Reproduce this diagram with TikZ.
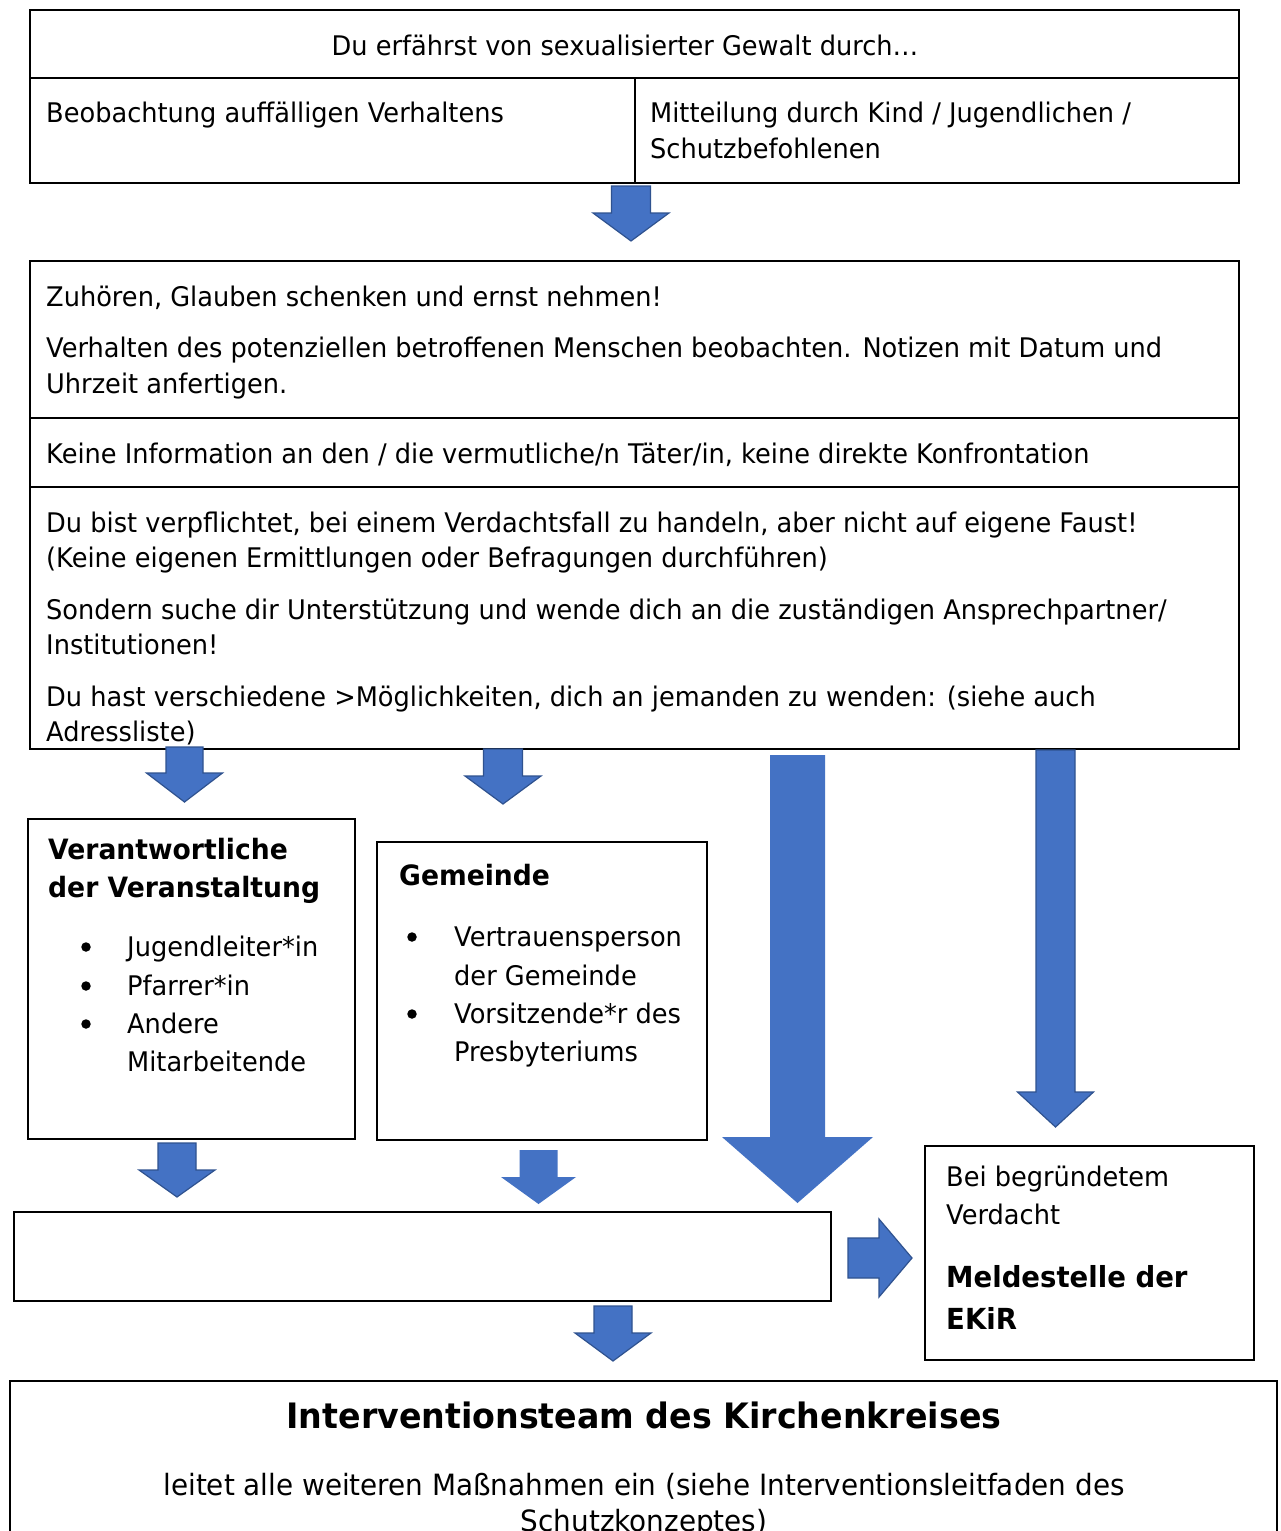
\documentclass[tikz,border=0pt]{standalone}
\usepackage{fontspec}
\setmainfont{DejaVu Sans}[FakeStretch=0.95]
\definecolor{arrowblue}{HTML}{4472C4}
\definecolor{arrowedge}{HTML}{2F528F}
\newcommand{\mainsz}{\fontsize{27}{35}\selectfont}
\newcommand{\bigsz}{\fontsize{29.3}{35}\selectfont}
\newcommand{\headsz}{\fontsize{28}{38}\selectfont\bfseries}
\newcommand{\meldsz}{\fontsize{29}{38}\selectfont\bfseries}
\newcommand{\titlesz}{\fontsize{35}{44}\selectfont\bfseries}
% down block arrow: cx, top, headbase, tip, shaft half width, head half width, style
\newcommand{\dnarrow}[7]{%
  \draw[#7] (#1-#5,#2) -- (#1+#5,#2) -- (#1+#5,#3) -- (#1+#6,#3) -- (#1,#4)
    -- (#1-#6,#3) -- (#1-#5,#3) -- cycle;}
\tikzset{
  box/.style={draw=black, line width=2pt, inner sep=0pt, outer sep=0pt, anchor=north west},
  divider/.style={draw=black, line width=2pt},
  txt/.style={anchor=base west, inner sep=0pt, font=\mainsz},
  ctr/.style={anchor=base, inner sep=0pt, font=\mainsz},
  hd/.style={anchor=base west, inner sep=0pt, font=\headsz},
  bullet/.style={circle, fill=black, inner sep=0pt, minimum size=9.5pt},
  barrow/.style={fill=arrowblue, draw=arrowedge, line width=1.2pt, line join=miter},
  flatarrow/.style={fill=arrowblue, draw=none},
}
\begin{document}
\begin{tikzpicture}[x=1pt,y=-1pt]
\useasboundingbox (0,0) rectangle (1280,1531);
\fill[white] (0,0) rectangle (1280,1531);

% ---- top box
\node[box, minimum width=1209pt, minimum height=173pt] (b1) at (30,10) {};
\draw[divider] (30,78) -- (1239,78);
\draw[divider] (635,78) -- (635,183);
\node[ctr] (t1) at (625,55) {Du erfährst von sexualisierter Gewalt durch…};
\node[txt] (t2) at (46,122) {Beobachtung auffälligen Verhaltens};
\node[txt] (t3) at (650,122) {Mitteilung durch Kind / Jugendlichen /};
\node[txt] (t4) at (650,158) {Schutzbefohlenen};

\dnarrow{631}{186}{213}{241}{19.5}{38}{barrow}

% ---- second box
\node[box, minimum width=1209pt, minimum height=488pt] (b2) at (30,261) {};
\draw[divider] (30,418) -- (1239,418);
\draw[divider] (30,487) -- (1239,487);
\node[txt] (s1) at (46,306) {Zuhören, Glauben schenken und ernst nehmen!};
\node[txt] (s2) at (46,357) {Verhalten des potenziellen betroffenen Menschen beobachten. Notizen mit Datum und};
\node[txt] (s3) at (46,393) {Uhrzeit anfertigen.};
\node[txt] (s4) at (46,463) {Keine Information an den / die vermutliche/n Täter/in, keine direkte Konfrontation};
\node[txt] (s5) at (46,532) {Du bist verpflichtet, bei einem Verdachtsfall zu handeln, aber nicht auf eigene Faust!};
\node[txt] (s6) at (46,567) {(Keine eigenen Ermittlungen oder Befragungen durchführen)};
\node[txt] (s7) at (46,619) {Sondern suche dir Unterstützung und wende dich an die zuständigen Ansprechpartner/};
\node[txt] (s8) at (46,654) {Institutionen!};
\node[txt] (s9) at (46,706) {Du hast verschiedene >Möglichkeiten, dich an jemanden zu wenden: (siehe auch};
\node[txt] (s10) at (46,741) {Adressliste)};

% ---- arrows below second box
\dnarrow{184.5}{747}{773}{802}{18.5}{38}{barrow}
\dnarrow{503}{749}{776}{804}{19.5}{38}{barrow}
\dnarrow{797.5}{755}{1137}{1203}{27.5}{75.5}{flatarrow}
\dnarrow{1055.5}{750}{1092}{1127}{19.5}{38}{barrow}

% ---- Verantwortliche box
\node[box, minimum width=327pt, minimum height=320pt] (b3) at (28,819) {};
\node[hd] (v1) at (48,859) {Verantwortliche};
\node[hd] (v2) at (48,897) {der Veranstaltung};
\node[bullet] (vb1) at (86,947) {};
\node[bullet] (vb2) at (86,986) {};
\node[bullet] (vb3) at (86,1024) {};
\node[txt] (v3) at (127,956) {Jugendleiter*in};
\node[txt] (v4) at (127,995) {Pfarrer*in};
\node[txt] (v5) at (127,1033) {Andere};
\node[txt] (v6) at (127,1071) {Mitarbeitende};

% ---- Gemeinde box
\node[box, minimum width=330pt, minimum height=298pt] (b4) at (377,842) {};
\node[hd] (g1) at (399,885) {Gemeinde};
\node[bullet] (gb1) at (412,937) {};
\node[bullet] (gb2) at (412,1014) {};
\node[txt] (g2) at (454,946) {Vertrauensperson};
\node[txt] (g3) at (454,985) {der Gemeinde};
\node[txt] (g4) at (454,1023) {Vorsitzende*r des};
\node[txt] (g5) at (454,1061) {Presbyteriums};

% ---- arrows below boxes
\dnarrow{177}{1143}{1170}{1197}{19}{38}{barrow}
\dnarrow{538.5}{1150}{1177}{1204}{19}{37.5}{flatarrow}

% ---- empty box
\node[box, minimum width=817pt, minimum height=89pt] (b5) at (14,1212) {};

% ---- right arrow
\draw[barrow] (848,1238) -- (879,1238) -- (879,1219) -- (912,1258) -- (879,1297)
  -- (879,1278) -- (848,1278) -- cycle;

% ---- Meldestelle box
\node[box, minimum width=329pt, minimum height=214pt] (b6) at (925,1146) {};
\node[txt] (m1) at (946,1186) {Bei begründetem};
\node[txt] (m2) at (946,1224) {Verdacht};
\node[hd, font=\meldsz] (m3) at (946,1287) {Meldestelle der};
\node[hd, font=\meldsz] (m4) at (946,1329) {EKiR};

\dnarrow{613}{1306}{1333}{1361}{19}{38}{barrow}

% ---- bottom box
\node[box, minimum width=1267pt, minimum height=190pt] (b7) at (10,1381) {};
\node[anchor=base, inner sep=0pt, font=\titlesz] (i1) at (644,1428) {Interventionsteam des Kirchenkreises};
\node[ctr, font=\bigsz] (i2) at (644,1495) {leitet alle weiteren Maßnahmen ein (siehe Interventionsleitfaden des};
\node[ctr, font=\bigsz] (i3) at (644,1531) {Schutzkonzeptes)};
\end{tikzpicture}
\end{document}
